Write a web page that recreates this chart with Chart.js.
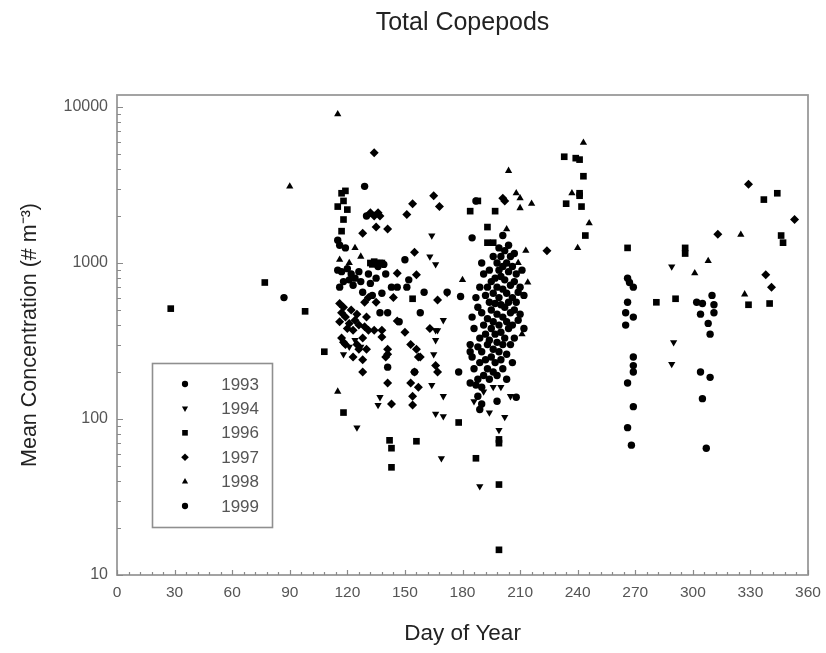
<!DOCTYPE html>
<html lang="en">

<head>
    <meta charset="UTF-8">
    <title>Total Copepods</title>
    <script src="https://cdn.jsdelivr.net/npm/chart.js"></script>
    <style>
        body { margin: 0; background: #fff; }
        canvas { display: block; }
    </style>
</head>

<body>
    <canvas id="myChart" width="826" height="653"></canvas>
</body>
<script>

    // day of year / mean concentration, one list per year
    const y1993 = [[87, 600], [115, 1400], [115, 900], [116, 1300], [116, 700], [117, 880], [118, 760], [119, 1250], [120, 920],
        [121, 780], [122, 850], [123, 720], [124, 800], [126, 880], [127, 760], [128, 650], [129, 3100], [130, 2000], [131, 850],
        [132, 740], [133, 620], [135, 800], [136, 950], [137, 480], [138, 640], [139, 980], [140, 850], [141, 480], [141, 215],
        [143, 700], [146, 700], [147, 420], [150, 1050], [151, 700], [152, 780], [155, 200], [158, 480], [160, 650], [172, 650],
        [178, 200], [179, 610], [184, 300], [186, 380], [188, 520], [190, 480], [192, 620], [193, 440], [195, 500], [196, 640],
        [197, 550], [198, 470], [199, 600], [200, 540], [201, 680], [203, 640], [204, 560], [205, 480], [206, 600], [207, 500],
        [209, 650], [211, 900], [212, 620]];
    const y1994 = [[125, 88], [163, 1100], [164, 1500], [164, 165], [165, 260], [166, 980], [166, 370], [166, 320], [166, 108],
        [167, 370], [169, 56], [170, 430], [170, 140], [170, 104], [172, 640], [189, 37], [199, 85], [289, 950], [290, 310],
        [289, 225], [194, 110], [196, 160], [191, 150], [202, 103], [186, 130], [200, 160], [205, 140], [136, 123], [137, 138],
        [121, 290], [127, 290], [118, 260], [124, 320]];
    const y1996 = [[28, 510], [77, 750], [98, 490], [108, 270], [118, 110], [115, 2300], [117, 2800], [118, 2500], [119, 2900],
        [120, 2200], [118, 1900], [117, 1600], [132, 1000], [133, 980], [134, 1020], [135, 1000], [137, 1000], [138, 1000],
        [143, 65], [143, 49], [142, 73], [156, 72], [154, 590], [187, 56], [178, 95], [199, 74], [199, 70], [199, 38], [199, 14.5],
        [233, 4800], [239, 4700], [241, 4600], [243, 3600], [241, 2800], [241, 2700], [234, 2400], [242, 2300], [244, 1500],
        [266, 1250], [281, 560], [291, 590], [296, 1250], [296, 1150], [329, 540], [340, 550], [346, 1500], [347, 1350],
        [344, 2800], [337, 2550], [188, 2500], [184, 2150], [197, 2150], [193, 1700], [193, 1350], [196, 1350]];
    const y1997 = [[134, 5100], [132, 2100], [136, 2100], [137, 2000], [134, 2000], [135, 1700], [141, 1650], [128, 1550],
        [151, 2050], [154, 2400], [165, 2700], [168, 2300], [201, 2600], [202, 2500], [224, 1200], [313, 1530], [329, 3200],
        [338, 840], [341, 700], [353, 1900], [146, 860], [156, 840], [155, 1170], [167, 580], [144, 600], [141, 280], [141, 260],
        [141, 170], [143, 125], [146, 425], [153, 300], [157, 250], [158, 250], [156, 280], [128, 200], [128, 240], [130, 280],
        [134, 370], [138, 370], [138, 335], [121, 410], [123, 370], [120, 380], [126, 400], [125, 470], [122, 500], [116, 550],
        [119, 450], [117, 480], [118, 520], [116, 420], [117, 330], [118, 310], [119, 300], [123, 250], [124, 430], [125, 300],
        [126, 280], [129, 390], [129, 560], [130, 450], [131, 370], [131, 600], [128, 330], [135, 560], [140, 250], [150, 360],
        [153, 170], [154, 140], [154, 123], [157, 160], [155, 200], [163, 380], [167, 200], [166, 220]];
    const y1998 = [[90, 3100], [115, 9000], [115, 150], [180, 780], [203, 1650], [204, 3900], [208, 2800], [210, 2600],
        [210, 2250], [216, 2400], [243, 5900], [237, 2800], [246, 1800], [240, 1250], [301, 860], [308, 1030], [325, 1520],
        [327, 630], [213, 1200], [214, 750], [211, 350], [209, 1000], [116, 1050], [121, 1000], [127, 1100], [124, 1250]];
    const y1999 = [[266, 800], [267, 750], [269, 700], [266, 560], [265, 480], [269, 450], [265, 400], [269, 250], [269, 220],
        [269, 200], [266, 170], [269, 120], [266, 88], [268, 68], [302, 560], [305, 550], [310, 620], [311, 540], [311, 480],
        [304, 470], [308, 410], [309, 350], [304, 200], [309, 185], [305, 135], [307, 65],
        [185, 1450], [187, 2500], [184, 270], [184, 170], [185, 250], [185, 450], [186, 210], [187, 165], [187, 600], [188, 290],
        [188, 180], [188, 140], [189, 700], [189, 115], [189, 330], [189, 230], [190, 1000], [190, 270], [190, 160], [190, 125],
        [191, 850], [191, 400], [191, 190], [192, 350], [192, 240], [193, 700], [193, 300], [193, 210], [194, 900], [194, 560],
        [194, 320], [194, 180], [195, 760], [195, 380], [195, 250], [196, 1100], [196, 420], [196, 280], [196, 200], [197, 800],
        [197, 350], [197, 230], [198, 1000], [198, 700], [198, 310], [198, 190], [198, 130], [199, 1250], [199, 900], [199, 400],
        [199, 270], [200, 1100], [200, 820], [200, 360], [200, 240], [201, 1500], [201, 950], [201, 450], [201, 300], [201, 210],
        [202, 1200], [202, 780], [202, 520], [202, 330], [203, 1000], [203, 420], [203, 260], [203, 180], [204, 1300], [204, 880],
        [204, 380], [205, 1100], [205, 720], [205, 300], [206, 950], [206, 400], [206, 230], [207, 1150], [207, 760], [207, 330],
        [208, 850], [208, 560], [208, 138], [209, 430], [210, 700], [210, 470], [212, 380]];

    const years = ['1993', '1994', '1996', '1997', '1998', '1999'];
    const yTicks = [10, 100, 1000, 10000];

    const fonte = '"Liberation Sans", Arial, sans-serif';

    const marcadores = [
        { pointStyle: 'circle', radius: 3.7, rotation: 0 },
        { pointStyle: 'triangle', radius: 4.2, rotation: 180 },
        { pointStyle: 'rect', radius: 4.7, rotation: 0 },
        { pointStyle: 'rectRot', radius: 4.5, rotation: 0 },
        { pointStyle: 'triangle', radius: 4.2, rotation: 0 },
        { pointStyle: 'circle', radius: 3.7, rotation: 0 }
    ];

    const series = [y1993, y1994, y1996, y1997, y1998, y1999];

    const datasets = series.map(function (lista, i) {
        return {
            label: years[i],
            data: lista.map(p => ({ x: p[0], y: p[1] })),
            pointStyle: marcadores[i].pointStyle,
            pointRadius: marcadores[i].radius,
            rotation: marcadores[i].rotation,
            backgroundColor: '#000',
            borderColor: '#000',
            borderWidth: 0,
            pointHoverRadius: marcadores[i].radius
        };
    });

    // moldura, tiques para dentro, legenda e titulo
    const extras = {
        id: 'extras',
        afterDraw(chart) {
            const ctx = chart.ctx;
            const a = chart.chartArea;
            const xs = chart.scales.x;
            const ys = chart.scales.y;
            ctx.save();

            ctx.strokeStyle = '#9a9a9a';
            ctx.lineWidth = 1.8;
            ctx.strokeRect(a.left, a.top, a.right - a.left, a.bottom - a.top);

            ctx.strokeStyle = '#8a8a8a';
            ctx.lineWidth = 1.2;
            ctx.beginPath();
            for (let d = 0; d <= 360; d += 6) {
                const px = Math.round(xs.getPixelForValue(d)) + 0.5;
                const len = d % 30 === 0 ? 5 : 3;
                ctx.moveTo(px, a.bottom);
                ctx.lineTo(px, a.bottom - len);
            }
            for (let dec = 10; dec < 10000; dec *= 10) {
                for (let m = 1; m <= 10; m++) {
                    const py = Math.round(ys.getPixelForValue(dec * m)) + 0.5;
                    const len = (m === 1 || m === 10) ? 6 : 4;
                    ctx.moveTo(a.left, py);
                    ctx.lineTo(a.left + len, py);
                }
            }
            ctx.stroke();

            // legenda
            ctx.strokeStyle = '#8f8f8f';
            ctx.lineWidth = 1.6;
            ctx.strokeRect(152.5, 363.5, 120, 164);
            ctx.font = '17px ' + fonte;
            ctx.textAlign = 'right';
            ctx.textBaseline = 'middle';
            years.forEach(function (ano, i) {
                const y = 384 + i * 24.4;
                ctx.fillStyle = '#000';
                if (Chart.helpers && Chart.helpers.drawPoint) {
                    Chart.helpers.drawPoint(ctx, {
                        pointStyle: marcadores[i].pointStyle,
                        radius: marcadores[i].radius * 0.85,
                        rotation: marcadores[i].rotation,
                        borderWidth: 0
                    }, 185, y);
                } else {
                    ctx.beginPath();
                    ctx.arc(185, y, 3, 0, Math.PI * 2);
                    ctx.fill();
                }
                ctx.fillStyle = '#555';
                ctx.fillText(ano, 259, y + 1);
            });

            // titulo
            ctx.fillStyle = '#222';
            ctx.textAlign = 'center';
            ctx.font = '25px ' + fonte;
            ctx.fillText('Total Copepods', (a.left + a.right) / 2, 23);
            ctx.restore();
        }
    };

    const ctx = document.getElementById('myChart');

    new Chart(ctx, {
        type: 'scatter',
        data: { datasets: datasets },
        options: {
            responsive: false,
            animation: false,
            layout: { padding: { left: 0, right: 18, top: 95, bottom: 0 } },
            plugins: {
                legend: { display: false },
                tooltip: { enabled: false },
                title: { display: false }
            },
            scales: {
                x: {
                    type: 'linear',
                    min: 0,
                    max: 360,
                    grid: { display: false, drawTicks: false },
                    border: { display: false },
                    ticks: {
                        stepSize: 30,
                        maxRotation: 0,
                        padding: 8,
                        color: '#555',
                        font: { family: fonte, size: 15.5 }
                    },
                    title: {
                        display: true,
                        text: 'Day of Year',
                        color: '#222',
                        font: { family: fonte, size: 22.5 },
                        padding: { top: 0, bottom: 6 }
                    },
                    afterFit: function (s) {
                        s.height = 78;
                        s.paddingLeft = 0;
                        s.paddingRight = 0;
                    }
                },
                y: {
                    type: 'logarithmic',
                    min: 10,
                    max: 11940,
                    grid: { display: false, drawTicks: false },
                    border: { display: false },
                    afterBuildTicks: function (s) {
                        s.ticks = yTicks.map(v => ({ value: v }));
                    },
                    ticks: {
                        padding: 9,
                        color: '#555',
                        font: { family: fonte, size: 16 },
                        callback: function (v) { return String(v); }
                    },
                    title: {
                        display: true,
                        text: 'Mean Concentration (# m\u207B\u00B3)',
                        color: '#222',
                        font: { family: fonte, size: 21.5 },
                        padding: { top: 17, bottom: 0 }
                    },
                    afterFit: function (s) { s.width = 117; }
                }
            }
        },
        plugins: [extras]
    });

</script>

</html>
